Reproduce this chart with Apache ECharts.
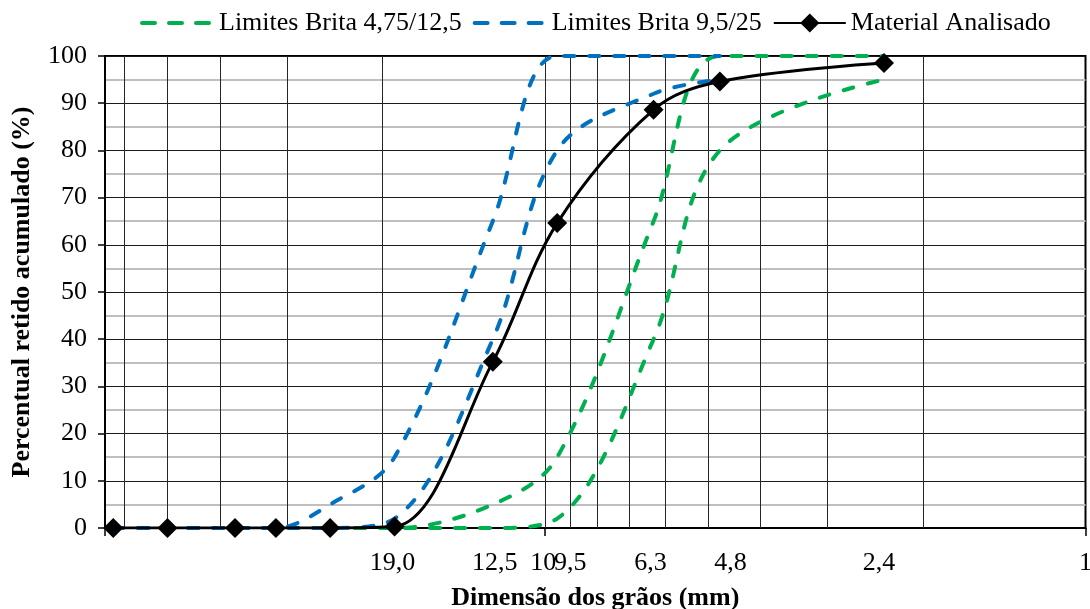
<!DOCTYPE html>
<html><head><meta charset="utf-8">
<script src="https://cdn.jsdelivr.net/npm/echarts@6/dist/echarts.min.js"></script>
<style>html,body{margin:0;padding:0;background:#fff}#c{width:1090px;height:609px}</style>
</head><body><div id="c"></div>
<script>
// ---- data ----
const sieveSizes = [63, 50, 37.5, 31.5, 25, 19, 12.5, 9.5, 6.3, 4.75, 2.36];
const materialRetained = [0, 0, 0, 0, 0, 0.3, 35.2, 64.6, 88.6, 94.6, 98.5];
const brita475Sizes = [25, 19, 12.5, 9.5, 6.3, 4.75, 2.36];
const brita475Upper = [0, 0, 5, 15, 65, 100, 100];
const brita475Lower = [0, 0, 0, 2, 40, 80, 95];
const brita95Sizes = [63, 50, 37.5, 31.5, 25, 19, 12.5, 9.5, 6.3, 4.75];
const brita95Upper = [0, 0, 0, 0, 5, 15, 65, 100, 100, 100];
const brita95Lower = [0, 0, 0, 0, 0, 2, 40, 80, 92, 95];
const xTickValues = [19, 12.5, 10, 9.5, 6.3, 4.8, 2.4, 1];
const xTickLabels = ['19,0', '12,5', '10', '9,5', '6,3', '4,8', '2,4', '1'];
const xGridValues = [2, 3, 4, 5, 6, 7, 8, 9, 10, 20, 30, 40, 50, 60];
const seriesNames = ['Limites Brita 4,75/12,5', 'Limites Brita 9,5/25', 'Material Analisado'];

// ---- layout / style ----
const labelNudge = [-2, 2, -2, 13, -3, 13, -1, 0];
const FONT = '"Liberation Serif", "Times New Roman", serif';
const GREEN = '#00B050', BLUE = '#0070C0';

const pairs = (xs, ys) => xs.map((x, i) => [x, ys[i]]);
const dashed = (name, xs, ys, color) => ({
  type: 'line', name, data: pairs(xs, ys), smooth: 0.35, symbol: 'none',
  lineStyle: { color, width: 4, type: [10, 15], cap: 'round' },
  itemStyle: { color }, z: 3, animation: false
});
const legendDash = { type: [13, 14], width: 4, cap: 'round' };

const chart = echarts.init(document.getElementById('c'), null, { renderer: 'canvas' });
chart.setOption({
  backgroundColor: '#fff',
  animation: false,
  textStyle: { fontFamily: FONT },
  legend: {
    data: [
      { name: seriesNames[0], itemStyle: { opacity: 0 }, lineStyle: legendDash },
      { name: seriesNames[1], itemStyle: { opacity: 0 }, lineStyle: legendDash },
      { name: seriesNames[2] }
    ],
    left: 135, top: 5, itemWidth: 72, itemHeight: 24, itemGap: 11,
    textStyle: { fontFamily: FONT, fontSize: 26, color: '#000' }
  },
  grid: {
    left: 105, right: 4.5, top: 56, bottom: 81, show: true, borderColor: '#000', borderWidth: 2,
    containLabel: false, outerBoundsMode: 'none'
  },
  xAxis: {
    type: 'log', logBase: 10, min: 1, max: 65.25, inverse: true,
    axisLine: { show: true, lineStyle: { color: '#000', width: 2 } },
    axisTick: { show: true, length: 8, lineStyle: { color: '#000', width: 1.5 } },
    axisLabel: { show: false },
    splitLine: { show: false },
    name: 'Dimensão dos grãos (mm)', nameLocation: 'middle', nameGap: 57,
    nameTextStyle: { fontFamily: FONT, fontSize: 26, fontWeight: 'bold', color: '#000' }
  },
  yAxis: {
    type: 'value', min: 0, max: 100, interval: 10,
    axisLine: { show: true, lineStyle: { color: '#000', width: 2 } },
    axisTick: { show: true, length: 7, lineStyle: { color: '#000', width: 1.5 } },
    axisLabel: { fontFamily: FONT, fontSize: 26, color: '#000', margin: 18 },
    splitLine: { show: true, lineStyle: { color: '#1a1a1a', width: 1 } },
    minorTick: { show: false, splitNumber: 2 },
    minorSplitLine: { show: true, lineStyle: { color: '#bfbfbf', width: 2 } },
    name: 'Percentual retido acumulado (%)', nameLocation: 'middle', nameGap: 70,
    nameTextStyle: { fontFamily: FONT, fontSize: 26, fontWeight: 'bold', color: '#000' }
  },
  series: [
    {
      type: 'line', data: [], silent: true, clip: false, z: 1,
      markLine: {
        silent: true, z: 1, symbol: ['none', 'none'], animation: false,
        label: { show: false },
        lineStyle: { color: '#262626', width: 1, type: 'solid' },
        data: xGridValues.map(v => ({ xAxis: v }))
      }
    },
    dashed(seriesNames[0], brita475Sizes, brita475Upper, GREEN),
    dashed(seriesNames[0], brita475Sizes, brita475Lower, GREEN),
    dashed(seriesNames[1], brita95Sizes, brita95Upper, BLUE),
    dashed(seriesNames[1], brita95Sizes, brita95Lower, BLUE),
    {
      type: 'line', name: seriesNames[2], data: pairs(sieveSizes, materialRetained),
      smooth: 0.35, symbol: 'diamond', symbolSize: 20, showAllSymbol: true,
      lineStyle: { color: '#000', width: 3 }, itemStyle: { color: '#000' }, z: 5
    },
    {
      type: 'scatter', silent: true, clip: false, symbolSize: 1, z: 6,
      itemStyle: { color: 'rgba(0,0,0,0)' },
      label: {
        show: true, position: 'bottom', distance: 22, fontFamily: FONT, fontSize: 26,
        color: '#000', opacity: 1, textBorderWidth: 0
      },
      data: xTickValues.map((v, i) => ({
        value: [v, 0],
        label: { formatter: xTickLabels[i], offset: [labelNudge[i], 0] }
      }))
    }
  ]
});
</script>
</body></html>
